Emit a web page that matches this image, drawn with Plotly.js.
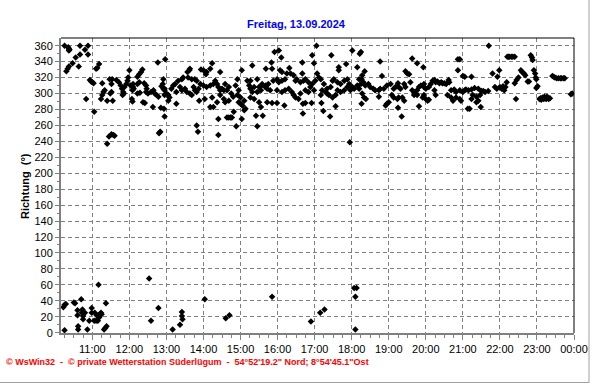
<!DOCTYPE html>
<html>
<head>
<meta charset="utf-8">
<script src="https://cdn.plot.ly/plotly-3.0.1.min.js"></script>
<style>html,body{margin:0;padding:0;background:#fff;}#chart{width:592px;height:384px;}</style>
</head>
<body>
<div id="chart"></div>
<script>
// Wind direction readings (time HH:MM, direction in degrees)
const times = [
 "10:15","10:21","10:22","10:23","10:22","10:40","10:53","10:48","10:53","10:40","10:33","10:28","10:22","10:20","10:18","10:38","10:50","10:56","10:58",
 "10:15","10:13","10:15","10:17","10:30","10:32","10:42","10:36","10:36","10:37","10:37","10:43","10:44","10:45","10:48","10:45","10:52","10:55","10:59","10:59",
 "11:00","11:02","11:03","11:11","11:08","11:06","11:16","11:28","11:32","11:39","11:43","11:46","11:48","11:50","11:20","11:18","11:16","11:14","11:24","11:33","11:29","11:31","11:31","11:52","11:55","11:57","11:58","11:51","11:49","11:31","11:27","11:36","11:24","11:34",
 "11:03","11:04","11:07","11:09","11:11","11:12","11:10","11:14","11:15","11:19","11:21","11:23","11:22","11:06",
 "12:00","12:21","12:19","12:16","12:13","12:02","12:06","12:07","12:06","12:13","12:16","12:24","12:27","12:28","12:05","12:13","12:17","12:04","12:05","12:22","12:25","12:27","12:30","12:35","12:39","12:41","12:44","12:47","12:38","12:51","12:57","12:57","12:57","12:57","12:50","12:48","12:49","12:46","12:58","12:55","12:56","12:55","12:52","12:54",
 "12:32","12:35","12:47",
 "13:00","13:03","13:05","13:03","13:08","13:14","13:19","13:25","13:27","13:30","13:33","13:16","13:25","13:35","13:41","13:46","13:49","13:44","13:46","13:49","13:52","13:41","13:38","13:16","13:53","13:55","13:38","13:37","13:34","13:56","13:49","13:51","13:11","13:22",
 "13:10","13:22","13:25","13:25","13:26",
 "14:00","14:04","14:05","14:11","14:27","14:14","14:02","14:14","14:22","14:11","14:16","14:00","14:05","14:11","14:16","14:19","14:22","14:24","14:27","14:30","14:33","14:38","14:35","14:41","14:27","14:33","14:41","14:35","14:52","14:55","14:57","14:55","14:57","14:24","14:38","14:41","14:44","14:46","14:49","14:24","14:53","14:45","14:48",
 "14:02","14:36","14:42",
 "15:02","15:19","15:41","15:00","15:06","15:03","15:08","15:06","15:00","15:11","15:16","15:14","15:16","15:22","15:19","15:27","15:30","15:33","15:27","15:35","15:41","15:16","15:22","15:30","15:33","15:25","15:36","15:02","15:27","15:55","15:50","15:51","15:34","15:40","15:45","15:53","15:59","15:43","15:48","15:59","15:43","15:51","15:59",
 "15:51",
 "16:02","16:06","16:04","16:07","16:19","16:40","16:56","16:59","16:02","16:07","16:12","16:15","16:21","16:26","16:29","16:31","16:37","16:42","16:45","16:50","16:56","16:40","16:07","16:12","16:18","16:23","16:26","16:29","16:34","16:37","16:45","16:50","16:53","16:59","16:11","16:41","16:45","16:55","16:41",
 "16:54",
 "17:03","17:27","17:51","17:39","17:39","17:01","17:07","17:04","17:10","17:15","17:20","17:26","17:29","17:31","17:37","17:42","17:48","17:53","17:56","17:10","17:12","17:18","17:20","17:23","17:29","17:34","17:37","17:42","17:48","17:53","17:58","17:11","17:34","17:14","17:25","17:57",
 "17:09","17:16",
 "18:01","18:13","18:15","18:09","18:01","18:09","18:15","18:17","18:12","18:04","18:12","18:17","18:16","18:20","18:46","18:21","18:49","18:16","18:19","18:22","18:27","18:30","18:35","18:38","18:44","18:46","18:52","18:57","18:23","18:44","18:55","18:57",
 "18:04","18:08","18:06","18:06",
 "19:38","19:46","19:56","19:27","19:30","19:33","19:35","19:03","19:08","19:11","19:16","19:19","19:25","19:27","19:15","19:38","19:41","19:44","19:46","19:49","19:52","19:57","19:57","19:00","19:05","19:08","19:14","19:16","19:22","19:25","19:15","19:21","19:41","19:46","19:49","19:55","19:57",
 "20:52","20:55","20:52","20:00","20:05","20:08","20:11","20:14","20:16","20:19","20:22","20:25","20:27","20:30","20:33","20:37","20:38","20:41","20:46","20:49","20:55","20:00","20:03","20:05","20:14","20:16","20:35","20:41","20:44","20:49","20:55","20:57",
 "21:00","21:00","21:05","21:42","21:48","21:56","21:14","21:03","21:03","21:09","21:14","21:19","21:25","21:30","21:33","21:36","21:41","21:52","21:55","21:59","21:14","21:16","21:22","21:25","21:28","21:22","21:29","21:11","21:08",
 "22:12","22:14","22:16","22:19","22:21","22:24","22:50","22:52","22:53","22:34","22:36","22:39","22:41","22:55","22:57","22:58","22:59","22:30","22:27","22:24","22:11","22:45","22:47","22:59","22:00","22:03","22:07","22:26","22:09","22:05",
 "23:01","23:04","23:06","23:07","23:09","23:11","23:12","23:13","23:15","23:16","23:18","23:19","23:21","23:25","23:27","23:29","23:32","23:35","23:38","23:40","23:43","23:45","23:55","23:57"
];
const directions = [
 360,358,356,355,354,360,360,355,349,349,345,338,334,331,328,334,293,317,315,
 3,32,35,36,38,37,42,28,22,8,4,25,29,21,25,17,4,15,25,31,
 314,313,277,337,332,331,313,318,318,317,314,310,306,302,304,302,298,293,291,291,300,302,312,308,312,316,320,300,298,249,246,247,237,248,
 15,25,22,15,19,23,60,25,23,4,6,8,37,15,
 329,330,327,324,321,310,308,306,312,312,314,313,310,306,304,300,301,293,290,289,288,302,300,302,304,300,298,296,283,282,271,298,304,306,252,250,251,339,343,318,281,306,309,312,
 68,15,31,
 300,298,295,291,306,312,316,318,320,306,302,302,304,320,318,318,316,308,304,302,306,298,300,287,291,312,331,329,327,330,260,252,310,308,
 4,10,26,21,17,
 329,324,327,331,327,338,293,295,289,283,283,310,308,310,312,316,312,308,304,306,304,304,312,308,298,293,291,289,310,318,304,298,289,268,270,270,270,270,277,248,259,300,296,
 42,18,22,
 329,335,331,295,291,285,281,279,287,316,316,310,306,308,302,302,308,304,318,312,310,295,293,289,283,272,272,268,259,352,339,331,310,308,312,316,318,306,304,304,289,288,288,
 45,
 354,345,329,327,332,339,348,338,314,316,318,325,325,323,316,318,314,316,318,314,312,325,302,304,306,302,298,295,293,300,304,302,308,304,285,287,288,288,275,
 14,
 360,348,337,333,329,316,320,325,318,312,306,308,316,318,314,312,316,318,312,298,304,302,300,298,295,298,304,302,304,308,304,288,284,278,271,239,
 25,29,
 354,350,352,333,308,310,312,323,318,306,306,300,287,295,340,328,322,318,314,310,312,308,306,304,304,306,306,310,293,296,285,287,
 56,56,45,4,
 344,338,333,328,325,324,314,312,306,308,308,306,312,308,313,304,302,300,304,308,310,312,308,289,298,295,293,295,295,291,282,271,298,298,284,295,298,
 343,343,329,306,308,312,316,317,314,315,313,314,313,313,312,317,314,304,305,302,304,293,291,292,304,298,298,295,291,295,293,291,
 322,302,305,360,325,321,321,321,304,304,305,307,306,303,303,302,303,308,306,329,293,298,296,291,298,289,283,281,281,
 346,346,346,346,346,346,348,345,342,329,327,325,323,329,325,320,318,320,317,313,314,315,315,307,308,306,304,293,308,309,
 309,293,294,292,295,293,296,294,293,296,295,293,294,322,321,320,319,319,319,319,319,319,299,300
];

const day = "2024-09-13 ";
const xs = times.map(t => day + t);

const plotL = 61, plotR = 574, plotT = 38, plotB = 333;
const pw = plotR - plotL, ph = plotB - plotT;
const px = v => (v - plotL) / pw;
const py = v => (plotB - v) / ph;

const trace = {
  x: xs, y: directions, type: "scatter", mode: "markers",
  marker: {symbol: "diamond", size: 5, color: "#000000", line: {width: 0}},
  hoverinfo: "skip"
};

const tickFont = {family: "Liberation Sans, Arial, sans-serif", size: 11, color: "#000"};

const layout = {
  width: 592, height: 384,
  margin: {l: plotL, r: 592 - plotR, t: plotT, b: 384 - plotB, pad: 0},
  paper_bgcolor: "#ffffff", plot_bgcolor: "#ffffff",
  showlegend: false,
  title: {text: "Freitag, 13.09.2024", font: {family: "Liberation Sans, Arial, sans-serif", size: 11, color: "#0000FF", weight: "bold"},
          x: 0.5, xref: "container", y: 1 - 24/384, yref: "container", yanchor: "middle", xanchor: "center"},
  xaxis: {
    type: "date",
    range: ["2024-09-13 10:09:15", "2024-09-14 00:00"],
    tick0: "2024-09-13 00:00", dtick: 3600000, tickformat: "%H:%M",
    ticks: "outside", ticklen: 5, tickcolor: "#808080", tickwidth: 1,
    tickfont: tickFont,
    showgrid: true, gridcolor: "#808080", gridwidth: 1, griddash: "4px,3px",
    minor: {dtick: 900000, ticks: "outside", ticklen: 3, tickcolor: "#808080", showgrid: false},
    showline: true, linecolor: "#808080", linewidth: 2,
    zeroline: false, fixedrange: true, automargin: false
  },
  yaxis: {
    range: [-0.4, 369.6],
    tick0: 0, dtick: 20,
    ticks: "outside", ticklen: 4, tickcolor: "#808080", tickwidth: 1,
    tickfont: tickFont,
    showgrid: true, gridcolor: "#808080", gridwidth: 1, griddash: "4px,3px",
    minor: {dtick: 10, ticks: "outside", ticklen: 2, tickcolor: "#808080", showgrid: false},
    showline: true, linecolor: "#808080", linewidth: 2,
    zeroline: false, fixedrange: true, automargin: false
  },
  shapes: [
    {type: "line", xref: "paper", yref: "paper", x0: 0, x1: 1, y0: 1, y1: 1, line: {color: "#000", width: 1}},
    {type: "line", xref: "paper", yref: "paper", x0: 1, x1: 1, y0: 0, y1: 1, line: {color: "#000", width: 1}},
    {type: "line", xref: "paper", yref: "paper", x0: px(589), x1: px(589), y0: py(0), y1: py(383), line: {color: "#a0a0a0", width: 1}},
    {type: "line", xref: "paper", yref: "paper", x0: px(0), x1: px(589), y0: py(382.5), y1: py(382.5), line: {color: "#a0a0a0", width: 1}}
  ],
  annotations: [
    {text: "<b>Richtung  (°)</b>", textangle: -90, xref: "paper", yref: "paper", x: px(25), y: py(186),
     xanchor: "center", yanchor: "middle", showarrow: false,
     font: {family: "Liberation Sans, Arial, sans-serif", size: 11, color: "#000"}},
    {text: "<b>©\u00a0WsWin32\u00a0\u00a0-\u00a0\u00a0©\u00a0private Wetterstation Süderlügum\u00a0\u00a0-\u00a0\u00a054°52'19.2\" Nord; 8°54'45.1\"Ost</b>", xref: "paper", yref: "paper",
     x: px(4), y: py(362), xanchor: "left", yanchor: "middle", showarrow: false,
     font: {family: "Liberation Sans, Arial, sans-serif", size: 9, color: "#FF0000"}}
  ]
};

Plotly.newPlot("chart", [trace], layout, {displayModeBar: false, staticPlot: true});
</script>
</body>
</html>
